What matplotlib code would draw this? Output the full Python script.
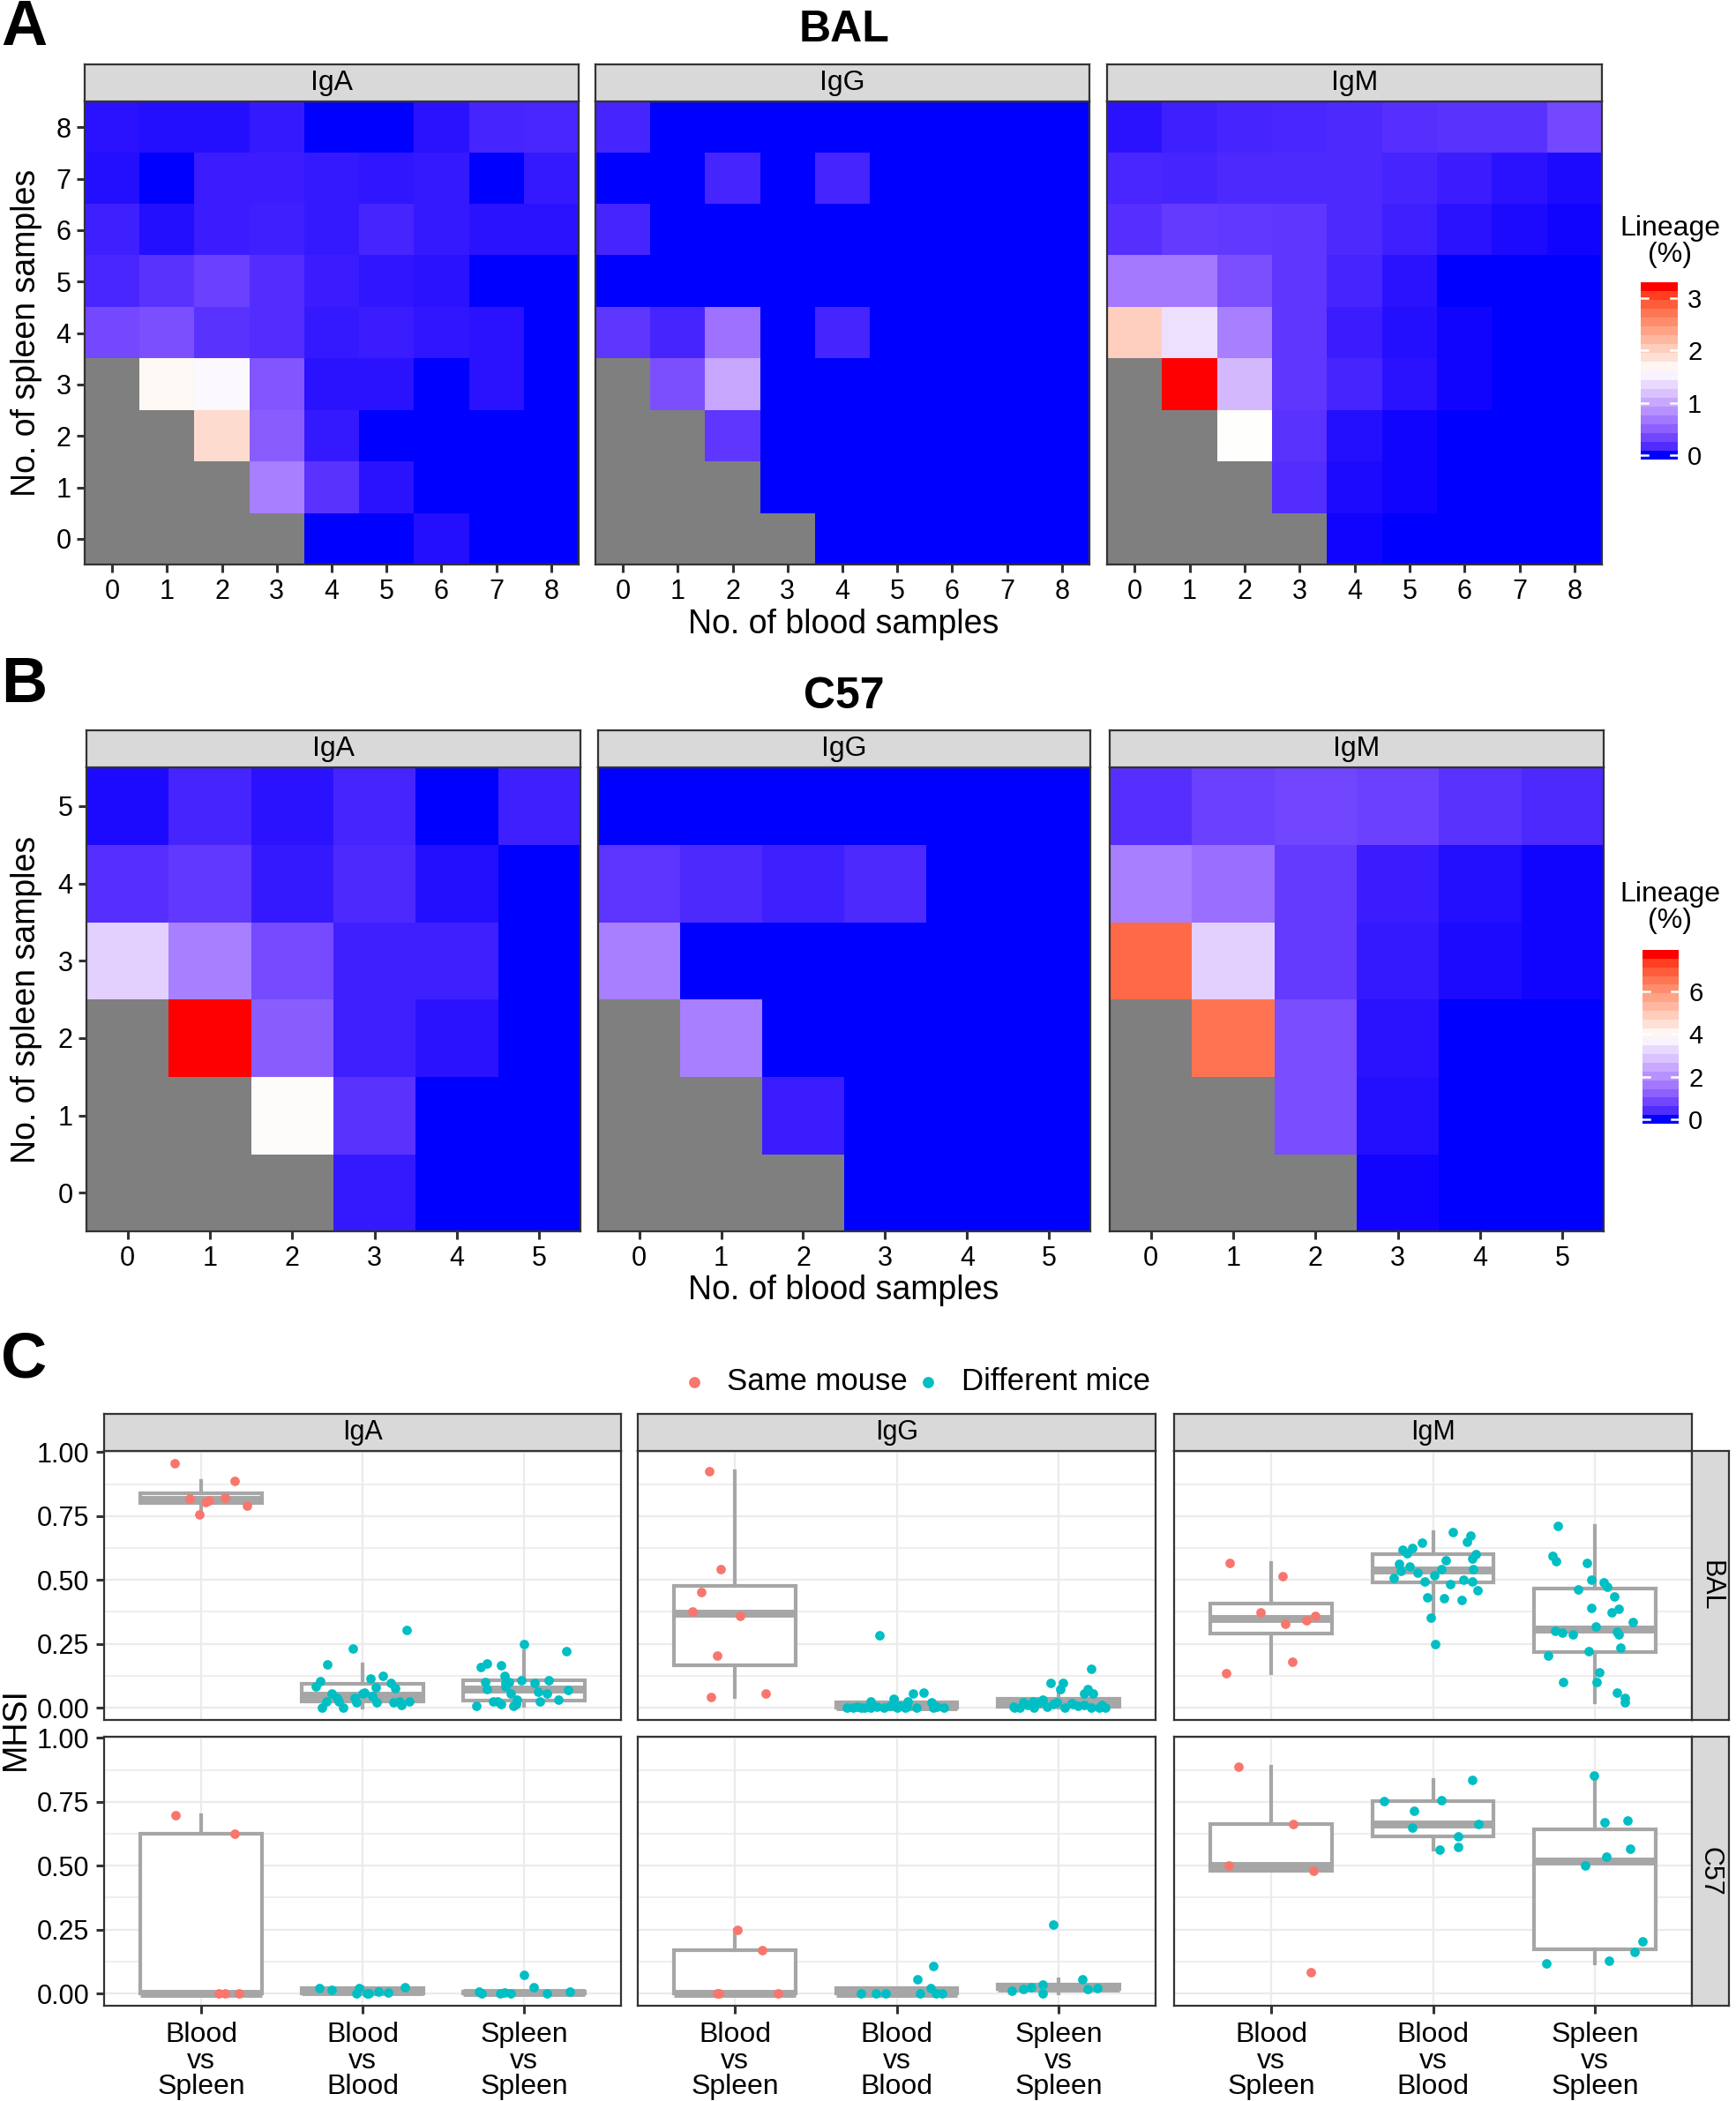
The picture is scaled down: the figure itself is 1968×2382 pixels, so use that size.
import numpy as np
import matplotlib
matplotlib.use("Agg")
import matplotlib.pyplot as plt
from matplotlib.colors import ListedColormap, to_rgb

plt.rcParams['font.family'] = ['Liberation Sans', 'DejaVu Sans']

W, H, DPI = 1968, 2382, 200
nan = np.nan

# ---------------- heatmap data: lineage (%) ----------------
# rows written top (most spleen samples) -> bottom (0); columns = blood samples 0..n
isotypes = ["IgA", "IgG", "IgM"]

bal_iga = [
    [0.06, 0.05, 0.05, 0.08, 0.00, 0.00, 0.06, 0.13, 0.15],
    [0.05, 0.00, 0.10, 0.10, 0.08, 0.07, 0.08, 0.00, 0.08],
    [0.11, 0.05, 0.10, 0.11, 0.08, 0.13, 0.08, 0.06, 0.06],
    [0.15, 0.21, 0.29, 0.18, 0.10, 0.07, 0.06, 0.00, 0.00],
    [0.35, 0.40, 0.21, 0.18, 0.08, 0.10, 0.07, 0.06, 0.00],
    [nan, 1.67, 1.56, 0.44, 0.06, 0.06, 0.00, 0.06, 0.00],
    [nan, nan, 1.90, 0.48, 0.08, 0.00, 0.00, 0.00, 0.00],
    [nan, nan, nan, 0.72, 0.21, 0.06, 0.00, 0.00, 0.00],
    [nan, nan, nan, nan, 0.00, 0.00, 0.05, 0.00, 0.00],
]
bal_igg = [
    [0.13, 0.00, 0.00, 0.00, 0.00, 0.00, 0.00, 0.00, 0.00],
    [0.00, 0.00, 0.13, 0.00, 0.13, 0.00, 0.00, 0.00, 0.00],
    [0.13, 0.00, 0.00, 0.00, 0.00, 0.00, 0.00, 0.00, 0.00],
    [0.00, 0.00, 0.00, 0.00, 0.00, 0.00, 0.00, 0.00, 0.00],
    [0.23, 0.13, 0.64, 0.00, 0.13, 0.00, 0.00, 0.00, 0.00],
    [nan, 0.40, 1.00, 0.00, 0.00, 0.00, 0.00, 0.00, 0.00],
    [nan, nan, 0.23, 0.00, 0.00, 0.00, 0.00, 0.00, 0.00],
    [nan, nan, nan, 0.00, 0.00, 0.00, 0.00, 0.00, 0.00],
    [nan, nan, nan, nan, 0.00, 0.00, 0.00, 0.00, 0.00],
]
bal_igm = [
    [0.06, 0.11, 0.13, 0.15, 0.16, 0.19, 0.21, 0.21, 0.35],
    [0.15, 0.13, 0.16, 0.16, 0.16, 0.13, 0.10, 0.06, 0.03],
    [0.19, 0.26, 0.24, 0.23, 0.16, 0.11, 0.06, 0.03, 0.02],
    [0.68, 0.68, 0.40, 0.23, 0.13, 0.06, 0.00, 0.00, 0.00],
    [2.01, 1.40, 0.72, 0.23, 0.10, 0.05, 0.02, 0.00, 0.00],
    [nan, 3.22, 1.13, 0.23, 0.13, 0.06, 0.02, 0.00, 0.00],
    [nan, nan, 1.61, 0.21, 0.05, 0.02, 0.00, 0.00, 0.00],
    [nan, nan, nan, 0.18, 0.03, 0.02, 0.00, 0.00, 0.00],
    [nan, nan, nan, nan, 0.02, 0.00, 0.00, 0.00, 0.00],
]
c57_iga = [
    [0.08, 0.31, 0.15, 0.31, 0.00, 0.27],
    [0.46, 0.58, 0.19, 0.39, 0.12, 0.00],
    [3.10, 1.74, 0.85, 0.27, 0.27, 0.00],
    [nan, 7.75, 1.16, 0.27, 0.15, 0.00],
    [nan, nan, 3.91, 0.50, 0.00, 0.00],
    [nan, nan, nan, 0.19, 0.00, 0.00],
]
c57_igg = [
    [0.00, 0.00, 0.00, 0.00, 0.00, 0.00],
    [0.54, 0.39, 0.27, 0.39, 0.00, 0.00],
    [1.74, 0.00, 0.00, 0.00, 0.00, 0.00],
    [nan, 1.74, 0.00, 0.00, 0.00, 0.00],
    [nan, nan, 0.23, 0.00, 0.00, 0.00],
    [nan, nan, nan, 0.00, 0.00, 0.00],
]
c57_igm = [
    [0.46, 0.70, 0.81, 0.70, 0.50, 0.39],
    [1.74, 1.47, 0.62, 0.23, 0.12, 0.04],
    [6.73, 3.10, 0.62, 0.19, 0.08, 0.04],
    [nan, 6.54, 0.93, 0.15, 0.00, 0.00],
    [nan, nan, 0.93, 0.12, 0.00, 0.00],
    [nan, nan, nan, 0.04, 0.00, 0.00],
]
bal_cb_ticks = [0, 1, 2, 3]
c57_cb_ticks = [0, 2, 4, 6]

# ---------------- MHSI data (panel C) ----------------
comparisons = ["Blood\nvs\nSpleen", "Blood\nvs\nBlood", "Spleen\nvs\nSpleen"]
strains = ["BAL", "C57"]
legend_labels = ["Same mouse", "Different mice"]

bal_iga_bs = [0.957, 0.820, 0.756, 0.804, 0.810, 0.821, 0.887, 0.790]
bal_iga_bb = [0.084, 0.104, 0.171, 0.0, 0.023, 0.055, 0.038, 0.0, 0.026, 0.232, 0.038, 0.055, 0.060,
              0.113, 0.044, 0.081, 0.021, 0.124, 0.096, 0.078, 0.021, 0.012, 0.303, 0.023, 0.023, 0.020]
bal_iga_ss = [0.009, 0.159, 0.174, 0.101, 0.073, 0.026, 0.023, 0.015, 0.167, 0.124, 0.084, 0.099, 0.055,
              0.009, 0.030, 0.015, 0.107, 0.249, 0.098, 0.061, 0.023, 0.055, 0.107, 0.032, 0.222, 0.069, 0.096]
bal_igg_bs = [0.924, 0.544, 0.454, 0.377, 0.361, 0.204, 0.041, 0.056]
bal_igg_bb = [0.0, 0.0, 0.003, 0.0, 0.023, 0.0, 0.005, 0.283, 0.0, 0.008, 0.035, 0.0, 0.008, 0.0,
              0.023, 0.055, 0.0, 0.059, 0.021, 0.0, 0.003, 0.0, 0.0, 0.005]
bal_igg_ss = [0.153, 0.096, 0.096, 0.073, 0.073, 0.055, 0.055, 0.0, 0.021, 0.026, 0.0, 0.020, 0.003, 0.021,
              0.018, 0.015, 0.012, 0.0, 0.0, 0.0, 0.0, 0.012, 0.030, 0.008, 0.005, 0.010, 0.0, 0.015]
bal_igm_bs = [0.565, 0.514, 0.372, 0.328, 0.343, 0.358, 0.180, 0.136]
bal_igm_bb = [0.689, 0.674, 0.651, 0.646, 0.626, 0.618, 0.603, 0.600, 0.583, 0.578, 0.562, 0.551, 0.541, 0.541,
              0.537, 0.528, 0.518, 0.508, 0.502, 0.495, 0.493, 0.484, 0.459, 0.432, 0.429, 0.422, 0.353, 0.249]
bal_igm_ss = [0.710, 0.593, 0.574, 0.568, 0.502, 0.491, 0.472, 0.464, 0.435, 0.389, 0.386, 0.372, 0.334, 0.317,
              0.300, 0.294, 0.286, 0.297, 0.286, 0.236, 0.222, 0.203, 0.139, 0.101, 0.101, 0.059, 0.038, 0.021]
c57_iga_bs = [0.697, 0.625, 0.0, 0.0, 0.0]
c57_iga_bb = [0.020, 0.016, 0.002, 0.020, 0.0, 0.008, 0.005, 0.025, 0.0]
c57_iga_ss = [0.008, 0.0, 0.002, 0.005, 0.0, 0.074, 0.023, 0.0, 0.008]
c57_igg_bs = [0.250, 0.170, 0.0, 0.0, 0.0]
c57_igg_bb = [0.0, 0.0, 0.0, 0.057, 0.0, 0.020, 0.106, 0.0, 0.0]
c57_igg_ss = [0.270, 0.012, 0.018, 0.023, 0.035, 0.002, 0.054, 0.017, 0.020]
c57_igm_bs = [0.888, 0.662, 0.500, 0.481, 0.084]
c57_igm_bb = [0.754, 0.715, 0.758, 0.835, 0.650, 0.662, 0.614, 0.564, 0.573]
c57_igm_ss = [0.853, 0.669, 0.678, 0.565, 0.536, 0.502, 0.205, 0.164, 0.129, 0.118]

# horizontal jitter of each point
bal_iga_bs_dx = [-0.165, -0.07, -0.01, 0.03, 0.05, 0.15, 0.21, 0.285]
bal_iga_bb_dx = [-0.29, -0.26, -0.22, -0.25, -0.225, -0.19, -0.16, -0.12, -0.15, -0.06, -0.05, 0.0, 0.01,
                 0.05, 0.06, 0.08, 0.09, 0.125, 0.175, 0.2, 0.19, 0.24, 0.275, 0.29, 0.23, -0.04]
bal_iga_ss_dx = [-0.295, -0.27, -0.23, -0.24, -0.23, -0.19, -0.165, -0.14, -0.145, -0.12, -0.115, -0.095, -0.085,
                 -0.065, -0.045, -0.05, -0.015, 0.0, 0.065, 0.085, 0.10, 0.14, 0.15, 0.215, 0.26, 0.27, -0.115]
bal_igg_bs_dx = [-0.16, -0.09, -0.21, -0.26, 0.03, -0.11, -0.15, 0.19]
bal_igg_bb_dx = [-0.31, -0.27, -0.24, -0.2, -0.16, -0.16, -0.12, -0.105, -0.08, -0.04, -0.02, 0.0, 0.02, 0.05,
                 0.07, 0.1, 0.12, 0.165, 0.215, 0.225, 0.25, 0.29, -0.22, 0.06]
bal_igg_ss_dx = [0.20, -0.05, 0.03, 0.01, 0.18, 0.215, 0.16, -0.27, -0.22, -0.16, -0.24, -0.12, -0.07, -0.01,
                 0.08, 0.09, 0.16, 0.2, 0.25, 0.29, -0.15, -0.19, -0.1, 0.12, -0.28, 0.27, 0.04, -0.03]
bal_igm_bs_dx = [-0.256, 0.07, -0.064, 0.085, 0.22, 0.27, 0.13, -0.28]
bal_igm_bb_dx = [0.12, 0.23, 0.21, -0.07, -0.126, -0.19, -0.16, 0.265, 0.245, 0.08, -0.21, -0.147, 0.05, 0.246,
                 -0.2, -0.094, 0.01, -0.245, 0.19, 0.24, -0.053, 0.107, 0.277, -0.037, 0.069, 0.176, -0.011, 0.011]
bal_igm_ss_dx = [-0.229, -0.263, -0.24, -0.046, -0.023, 0.057, 0.075, -0.103, 0.119, -0.023, 0.149, 0.103, 0.233,
                 0.005, -0.247, -0.2, -0.137, 0.137, 0.149, 0.16, -0.039, -0.29, 0.025, -0.197, 0.011, 0.137,
                 0.183, 0.183]
c57_iga_bs_dx = [-0.16, 0.21, 0.11, 0.15, 0.235]
c57_iga_bb_dx = [-0.27, -0.19, -0.04, -0.02, 0.04, 0.10, 0.16, 0.26, 0.025]
c57_iga_ss_dx = [-0.28, -0.265, -0.15, -0.12, -0.085, 0.0, 0.06, 0.14, 0.285]
c57_igg_bs_dx = [0.016, 0.167, -0.11, -0.10, 0.267]
c57_igg_bb_dx = [-0.22, -0.13, -0.07, 0.127, 0.144, 0.21, 0.227, 0.245, 0.28]
c57_igg_ss_dx = [-0.03, -0.29, -0.22, -0.17, -0.10, -0.10, 0.15, 0.18, 0.24]
c57_igm_bs_dx = [-0.2, 0.135, -0.26, 0.26, 0.247]
c57_igm_bb_dx = [-0.3, -0.117, 0.05, 0.24, -0.13, 0.28, 0.156, 0.04, 0.153]
c57_igm_ss_dx = [-0.007, 0.062, 0.204, 0.217, 0.073, -0.06, 0.295, 0.247, 0.085, -0.3]

mhsi = {
    ("BAL", "IgA"): [(bal_iga_bs, bal_iga_bs_dx), (bal_iga_bb, bal_iga_bb_dx), (bal_iga_ss, bal_iga_ss_dx)],
    ("BAL", "IgG"): [(bal_igg_bs, bal_igg_bs_dx), (bal_igg_bb, bal_igg_bb_dx), (bal_igg_ss, bal_igg_ss_dx)],
    ("BAL", "IgM"): [(bal_igm_bs, bal_igm_bs_dx), (bal_igm_bb, bal_igm_bb_dx), (bal_igm_ss, bal_igm_ss_dx)],
    ("C57", "IgA"): [(c57_iga_bs, c57_iga_bs_dx), (c57_iga_bb, c57_iga_bb_dx), (c57_iga_ss, c57_iga_ss_dx)],
    ("C57", "IgG"): [(c57_igg_bs, c57_igg_bs_dx), (c57_igg_bb, c57_igg_bb_dx), (c57_igg_ss, c57_igg_ss_dx)],
    ("C57", "IgM"): [(c57_igm_bs, c57_igm_bs_dx), (c57_igm_bb, c57_igm_bb_dx), (c57_igm_ss, c57_igm_ss_dx)],
}

# ---------------- helpers ----------------
STRIP = '#D9D9D9'
EDGE = '#333333'
NA_GREY = '#7F7F7F'
BOX_GREY = '#A6A6A6'
RED, CYAN = '#F8766D', '#00BFC4'


def rect(x0, y0, x1, y1):
    """pixel box (origin top-left) -> figure fraction"""
    return [x0 / W, 1 - y1 / H, (x1 - x0) / W, (y1 - y0) / H]


def ftext(x, y, s, **kw):
    return fig.text(x / W, 1 - y / H, s, **kw)


def srgb_to_lab(rgb):
    c = np.asarray(rgb, float)
    lin = np.where(c <= 0.04045, c / 12.92, ((c + 0.055) / 1.055) ** 2.4)
    m = np.array([[0.4124, 0.3576, 0.1805], [0.2126, 0.7152, 0.0722], [0.0193, 0.1192, 0.9505]])
    xyz = m @ lin / np.array([0.95047, 1.0, 1.08883])
    f = np.where(xyz > (6 / 29) ** 3, np.cbrt(xyz), xyz / (3 * (6 / 29) ** 2) + 4 / 29)
    return np.array([116 * f[1] - 16, 500 * (f[0] - f[1]), 200 * (f[1] - f[2])])


def lab_to_srgb(lab):
    L, a, b = lab
    fy = (L + 16) / 116
    f = np.array([fy + a / 500, fy, fy - b / 200])
    xyz = np.where(f > 6 / 29, f ** 3, 3 * (6 / 29) ** 2 * (f - 4 / 29)) * np.array([0.95047, 1.0, 1.08883])
    m = np.array([[3.2406, -1.5372, -0.4986], [-0.9689, 1.8758, 0.0415], [0.0557, -0.2040, 1.0570]])
    lin = np.clip(m @ xyz, 0, 1)
    return np.where(lin <= 0.0031308, 12.92 * lin, 1.055 * lin ** (1 / 2.4) - 0.055)


def lab_gradient(colors, n=256):
    # ggplot's gradientn interpolates in Lab space
    labs = [srgb_to_lab(to_rgb(c)) for c in colors]
    out = []
    for t in np.linspace(0, 1, n):
        s = t * (len(labs) - 1)
        i = min(int(s), len(labs) - 2)
        u = s - i
        out.append(np.clip(lab_to_srgb(labs[i] * (1 - u) + labs[i + 1] * u), 0, 1))
    cm = ListedColormap(out)
    cm.set_bad(NA_GREY)
    return cm


cmap = lab_gradient(["blue", "white", "red"])


def strip(x0, y0, x1, y1, label, size, rotation=0):
    sa = fig.add_axes(rect(x0, y0, x1, y1))
    sa.set_facecolor(STRIP)
    sa.set_xticks([])
    sa.set_yticks([])
    for sp in sa.spines.values():
        sp.set_color(EDGE)
        sp.set_linewidth(0.8)
    sa.text(0.5, 0.5, label, ha='center', va='center', fontsize=size, rotation=rotation,
            transform=sa.transAxes)


def heat_block(grids, cols, strip_top, top, bottom, vmax, cb_box, cb_ticks, cb_title_y):
    for k, (grid, (x0, x1)) in enumerate(zip(grids, cols)):
        arr = np.array(grid, float)[::-1]
        n = arr.shape[0]
        ax = fig.add_axes(rect(x0, top, x1, bottom))
        ax.imshow(np.ma.masked_invalid(arr), origin='lower', cmap=cmap, vmin=0, vmax=vmax,
                  extent=(-0.5, n - 0.5, -0.5, n - 0.5), aspect='auto', interpolation='nearest')
        ax.set_xticks(range(n))
        ax.set_yticks(range(n))
        ax.tick_params(colors=EDGE, labelcolor='black', length=3.1, width=1.1, labelsize=11, pad=2.5)
        if k > 0:
            ax.tick_params(axis='y', left=False, labelleft=False)
        for sp in ax.spines.values():
            sp.set_color(EDGE)
            sp.set_linewidth(0.8)
        strip(x0, strip_top, x1, top, isotypes[k], 11.5)

    # stepped colourbar, 20 bins like ggplot's guide_colourbar
    nb = 20
    vals = np.linspace(0, vmax, nb)
    bw = vmax / (nb - 1)
    edges = np.linspace(-bw / 2, vmax + bw / 2, nb + 1)
    cax = fig.add_axes(rect(*cb_box))
    cax.pcolormesh([0, 1], edges, vals.reshape(-1, 1), cmap=cmap, vmin=0, vmax=vmax)
    cax.set_xlim(0, 1)
    cax.set_ylim(edges[0], edges[-1])
    for v in cb_ticks:
        cax.plot([0, 0.2], [v, v], color='white', lw=0.9)
        cax.plot([0.8, 1], [v, v], color='white', lw=0.9)
    cax.set_xticks([])
    cax.yaxis.tick_right()
    cax.set_yticks(cb_ticks)
    cax.tick_params(axis='y', length=0, labelsize=10.5, pad=4)
    for sp in cax.spines.values():
        sp.set_visible(False)
    ftext(1893, cb_title_y, "Lineage\n(%)", ha='center', va='center', fontsize=11.5, linespacing=1.0)


# ---------------- figure ----------------
fig = plt.figure(figsize=(W / DPI, H / DPI), dpi=DPI)
fig.patch.set_facecolor('white')

# Panel A
ftext(27, 32, "A", ha='center', va='center', fontsize=26, fontweight='bold')
ftext(957, 34, "BAL", ha='center', va='center', fontsize=18, fontweight='bold')
heat_block([bal_iga, bal_igg, bal_igm], [(96, 656), (675, 1235), (1255, 1816)], 73, 115, 640,
           np.nanmax(bal_igm), (1860, 320, 1902, 521), bal_cb_ticks, 274)
ftext(30, 377, "No. of spleen samples", ha='center', va='center', rotation=90, fontsize=13.5)
ftext(956, 708, "No. of blood samples", ha='center', va='center', fontsize=13.5)

# Panel B
ftext(27, 777, "B", ha='center', va='center', fontsize=26, fontweight='bold')
ftext(957, 790, "C57", ha='center', va='center', fontsize=18, fontweight='bold')
heat_block([c57_iga, c57_igg, c57_igm], [(98, 658), (678, 1236), (1258, 1818)], 828, 870, 1396,
           np.nanmax(c57_iga), (1862, 1077, 1903, 1274), c57_cb_ticks, 1029)
ftext(30, 1133, "No. of spleen samples", ha='center', va='center', rotation=90, fontsize=13.5)
ftext(956, 1463, "No. of blood samples", ha='center', va='center', fontsize=13.5)

# Panel C
ftext(27, 1543, "C", ha='center', va='center', fontsize=26, fontweight='bold')
leg_y = 1567
fig.add_artist(plt.Line2D([787 / W], [1 - leg_y / H], marker='o', color=RED, markersize=3.6,
                          linestyle='none', transform=fig.transFigure))
ftext(824, leg_y, legend_labels[0], ha='left', va='center', fontsize=12.5)
fig.add_artist(plt.Line2D([1052 / W], [1 - leg_y / H], marker='o', color=CYAN, markersize=3.6,
                          linestyle='none', transform=fig.transFigure))
ftext(1090, leg_y, legend_labels[1], ha='left', va='center', fontsize=12.5)

all_vals = np.concatenate([np.array(v) for grp in mhsi.values() for v, _ in grp])
span = all_vals.max() - all_vals.min()
ylo, yhi = all_vals.min() - 0.05 * span, all_vals.max() + 0.05 * span

c_cols = [(118, 704), (723, 1310), (1331, 1918)]
c_rows = [(1645, 1950), (1969, 2274)]
for r, strain in enumerate(strains):
    y0, y1 = c_rows[r]
    for c, iso in enumerate(isotypes):
        x0, x1 = c_cols[c]
        ax = fig.add_axes(rect(x0, y0, x1, y1))
        ax.set_xlim(0.4, 3.6)
        ax.set_ylim(ylo, yhi)
        ax.set_yticks([0, 0.25, 0.5, 0.75, 1.0])
        ax.set_yticks([0.125, 0.375, 0.625, 0.875], minor=True)
        ax.set_xticks([1, 2, 3])
        ax.grid(which='major', color='#EBEBEB', lw=0.8)
        ax.grid(which='minor', axis='y', color='#EBEBEB', lw=0.6)
        ax.set_axisbelow(True)
        groups = mhsi[(strain, iso)]
        ax.boxplot([g[0] for g in groups], positions=[1, 2, 3], widths=0.75, showfliers=False,
                   showcaps=False, patch_artist=True, manage_ticks=False,
                   boxprops=dict(facecolor='white', edgecolor=BOX_GREY, linewidth=1.5),
                   medianprops=dict(color=BOX_GREY, linewidth=3.2, solid_capstyle='butt'),
                   whiskerprops=dict(color=BOX_GREY, linewidth=1.5))
        for i, (vals, dx) in enumerate(groups):
            ax.scatter(np.array(dx) + i + 1, vals, s=15, color=RED if i == 0 else CYAN,
                       linewidths=0, zorder=4)
        ax.tick_params(which='minor', length=0)
        ax.tick_params(which='major', colors=EDGE, labelcolor='black', length=3.1, width=1.1,
                       labelsize=11, pad=3)
        if c == 0:
            ax.set_yticklabels(["0.00", "0.25", "0.50", "0.75", "1.00"])
        else:
            ax.tick_params(axis='y', left=False, labelleft=False)
        if r == 1:
            ax.set_xticklabels(comparisons, linespacing=0.97, fontsize=11.5)
            ax.tick_params(axis='x', pad=3.5)
        else:
            ax.tick_params(axis='x', bottom=False, labelbottom=False)
        for sp in ax.spines.values():
            sp.set_color(EDGE)
            sp.set_linewidth(0.8)
        if r == 0:
            strip(x0, 1603, x1, 1645, iso, 11)
    strip(1918, y0, 1960, y1, strain, 11, rotation=-90)

ftext(18, 1960, "MHSI", ha='center', va='center', rotation=90, fontsize=13.5)

fig.savefig("out.png", dpi=DPI, facecolor='white')
